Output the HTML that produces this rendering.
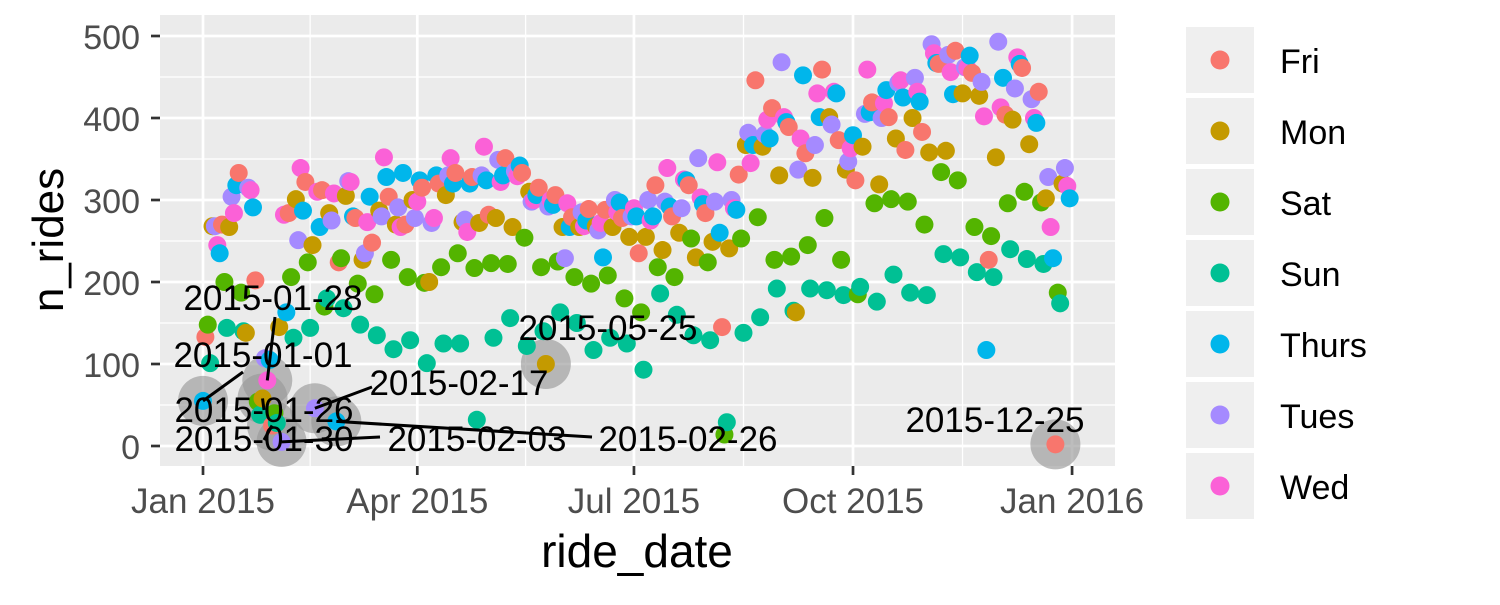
<!DOCTYPE html>
<html><head><meta charset="utf-8"><style>
body{margin:0;background:#fff;}
svg text{font-family:"Liberation Sans",Arial,sans-serif;}
</style></head><body>
<svg id="chart" width="1500" height="600" xmlns="http://www.w3.org/2000/svg">
<rect x="160" y="15" width="955" height="451" fill="#ebebeb"/>
<g id="grid"></g><g id="axes"></g><g id="hl"></g><g id="pts"></g><g id="ann"></g><g id="legend"></g>
<text x="63" y="240" font-size="44" text-anchor="middle" transform="rotate(-90 63 240)">n_rides</text>
<text x="637" y="567" font-size="46" text-anchor="middle">ride_date</text>
</svg>
<script>
const startDate = "2015-01-01";
const nRides = [
55,133,148,101,268,268,245,
235,270,200,144,267,304,284,
318,333,187,140,138,315,312,
291,202,54,38,58,107,80,
105,25,40,28,145,5,282,
163,284,206,132,301,251,339,
287,322,224,144,245,46,310,
267,312,170,180,284,275,308,
30,224,229,168,305,323,322,
280,278,198,148,227,235,273,
304,248,185,135,287,280,352,
328,304,227,118,270,291,267,
333,270,206,129,300,278,298,
324,315,199,101,200,272,278,
330,320,218,125,306,330,351,
320,333,235,125,273,276,261,
320,328,217,32,272,330,365,
324,282,223,132,278,349,322,
330,351,222,156,267,335,329,
342,333,254,122,310,298,300,
306,315,218,140,100,292,300,
294,306,225,163,267,229,296,
267,279,206,150,267,285,268,
275,289,198,117,268,263,272,
230,288,208,132,267,300,285,
297,278,180,125,255,280,290,
280,235,163,93,255,300,275,
280,318,218,186,239,298,339,
292,280,206,160,260,290,325,
324,318,253,135,230,351,303,
295,284,224,129,249,298,346,
260,145,14,29,241,300,290,
288,331,253,138,367,382,345,
367,446,279,157,365,380,398,
375,412,227,192,330,468,401,
395,389,231,165,163,337,375,
452,357,245,192,327,367,430,
401,459,278,190,401,392,432,
430,373,227,184,337,347,363,
379,324,185,194,365,405,459,
407,419,296,176,319,400,418,
434,401,301,209,375,443,446,
425,361,298,187,400,449,432,
420,383,270,184,358,490,479,
467,466,334,234,360,477,456,
429,482,324,230,430,462,461,
476,455,267,212,427,444,402,
117,227,256,206,352,493,413,
449,404,296,240,398,436,474,
466,461,310,228,368,423,400,
394,432,297,222,302,328,267,
229,2,187,174,320,339,317,
302];
const dayNames = ["Thurs","Fri","Sat","Sun","Mon","Tues","Wed"];
const legendDays = ["Fri","Mon","Sat","Sun","Thurs","Tues","Wed"];
const dayColors = {Fri:"#F8766D",Mon:"#C49A00",Sat:"#53B400",Sun:"#00C094",Thurs:"#00B6EB",Tues:"#A58AFF",Wed:"#FB61D7"};
const yTicks = [0,100,200,300,400,500];
const xTickDays = [0,90,181,273,365];
const xTickLabels = ["Jan 2015","Apr 2015","Jul 2015","Oct 2015","Jan 2016"];
const labelledDays = [0,25,27,29,33,47,56,144,358];
const labelText = ["2015-01-01","2015-01-26","2015-01-28","2015-01-30","2015-02-03","2015-02-17","2015-02-26","2015-05-25","2015-12-25"];
const labelPos = [[263,367],[264,422],[273,310],[264,451],[477,451],[459,395],[688,451],[608,340],[995,432]];
const labelAnchor = [[243,372],[264,410],[275,317],[264,440],[380,437],[372,387],[592,437],null,null];

const x = d => 203 + d*2.381;
const y = v => 446 - v*0.82;
const NS="http://www.w3.org/2000/svg";
function mk(tag, attrs, parent){const e=document.createElementNS(NS,tag);for(const k in attrs)e.setAttribute(k,attrs[k]);parent.appendChild(e);return e;}
const grid=document.getElementById('grid'), axes=document.getElementById('axes');
for(let i=0;i<yTicks.length;i++){
  if(i<yTicks.length-1){
    const l=mk('line',{x1:160,x2:1115,y1:y(yTicks[i]+50),y2:y(yTicks[i]+50),stroke:'#fff','stroke-width':1.3},grid);
    
    
  }
  const g=mk('line',{x1:160,x2:1115,y1:y(yTicks[i]),y2:y(yTicks[i]),stroke:'#fff','stroke-width':2.7},grid);
  
  
  mk('line',{x1:151,x2:160,y1:y(yTicks[i]),y2:y(yTicks[i]),stroke:'#333','stroke-width':2.7},axes);
  const t=mk('text',{x:140,y:y(yTicks[i])+13,'font-size':34,fill:'#4d4d4d','text-anchor':'end'},axes);
  t.textContent=yTicks[i];
  
  
}
for(let i=0;i<xTickDays.length;i++){
  if(i<xTickDays.length-1){
    const m=(xTickDays[i]+xTickDays[i+1])/2;
    const l=mk('line',{x1:x(m),x2:x(m),y1:15,y2:466,stroke:'#fff','stroke-width':1.3},grid);
    
    
  }
  const g=mk('line',{x1:x(xTickDays[i]),x2:x(xTickDays[i]),y1:15,y2:466,stroke:'#fff','stroke-width':2.7},grid);
  
  
  mk('line',{x1:x(xTickDays[i]),x2:x(xTickDays[i]),y1:466,y2:475,stroke:'#333','stroke-width':2.7},axes);
  const t=mk('text',{x:x(xTickDays[i]),y:513,'font-size':35,fill:'#4d4d4d','text-anchor':'middle'},axes);
  t.textContent=xTickLabels[i];
  
  
}
const hl=document.getElementById('hl');
labelledDays.forEach(d=>{
  const c=mk('circle',{cx:x(d),cy:y(nRides[d]),r:25,fill:'#999','fill-opacity':0.65},hl);
  
  
});
const pts=document.getElementById('pts');
nRides.forEach((v,d)=>{
  const day=dayNames[d%7];
  const c=mk('circle',{cx:x(d),cy:y(v),r:9,fill:dayColors[day]},pts);
  
  
});
const ann=document.getElementById('ann');
labelledDays.forEach((d,i)=>{
  const a=labelAnchor[i];
  const ax=a?a[0]:x(d), ay=a?a[1]:y(nRides[d]);
  mk('line',{x1:x(d),y1:y(nRides[d]),x2:ax,y2:ay,stroke:'#000','stroke-width':3},ann);
});
labelledDays.forEach((d,i)=>{
  const t=mk('text',{x:labelPos[i][0],y:labelPos[i][1],'font-size':35,'text-anchor':'middle',fill:'#000'},ann);
  t.textContent=labelText[i];
  
  
});
const lg=document.getElementById('legend');
legendDays.forEach((dn,i)=>{
  const cy=60+i*71;
  const r=mk('rect',{x:1186,y:cy-33,width:68,height:66,fill:'#efefef'},lg);
  
  
  mk('circle',{cx:1220,cy:cy,r:9.5,fill:dayColors[dn]},lg);
  const t=mk('text',{x:1280,y:cy+13,'font-size':34,fill:'#000'},lg);
  t.textContent=dn;
  
  
});
</script>
</body></html>
